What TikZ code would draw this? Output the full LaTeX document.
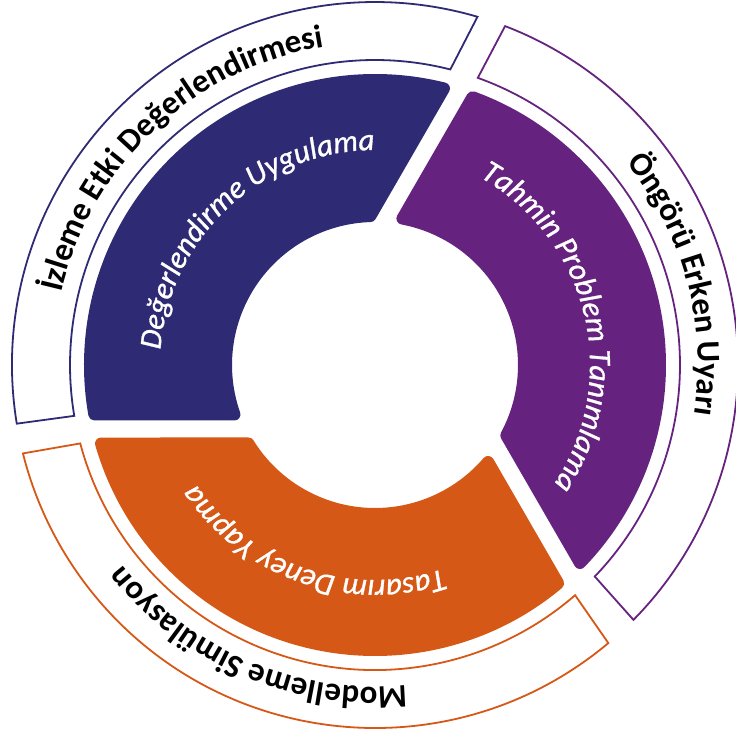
\documentclass[tikz,border=0pt]{standalone}
\usepackage{fontspec}
\setmainfont{Carlito}
\newfontfamily\innerfont{Carlito}[UprightFont={* Italic}, FakeBold=1]
\usetikzlibrary{decorations.text}
\definecolor{cblue}{HTML}{2E2B74}
\definecolor{cpurple}{HTML}{65237F}
\definecolor{corange}{HTML}{D65816}
\begin{document}
\begin{tikzpicture}[x=1pt,y=1pt,
  seg/.style={line width=12pt, line join=round},
  ring/.style={line width=1.8pt, fill=white}]
\useasboundingbox (-375,-366) rectangle (361,365);
% inner filled segments
\filldraw[seg, fill=cblue, draw=cblue] (75.99:285) arc[start angle=75.99, end angle=190, radius=285] -- (199.40:149) arc[start angle=199.40, end angle=91.79, radius=149] -- cycle;
\filldraw[seg, fill=cpurple, draw=cpurple] (-44.01:285) arc[start angle=-44.01, end angle=70, radius=285] -- (79.40:149) arc[start angle=79.40, end angle=-28.21, radius=149] -- cycle;
\filldraw[seg, fill=corange, draw=corange] (195.99:285) arc[start angle=195.99, end angle=310, radius=285] -- (319.40:149) arc[start angle=319.40, end angle=211.79, radius=149] -- cycle;
% outer outlined segments
\draw[ring, draw=cblue] (75.7:305) arc[start angle=75.7, end angle=189.6, radius=305] -- (189.3:363) arc[start angle=189.3, end angle=73.6, radius=363] -- cycle;
\draw[ring, draw=cpurple] (-43.9:305) arc[start angle=-43.9, end angle=70.3, radius=305] -- (69.0:363) arc[start angle=69.0, end angle=-44.6, radius=363] -- cycle;
\draw[ring, draw=corange] (194.9:305) arc[start angle=194.9, end angle=311.0, radius=305] -- (310.0:363) arc[start angle=310.0, end angle=194.1, radius=363] -- cycle;
% outer texts
\path[decorate, decoration={text along path, text align=center, text={|\fontsize{33}{36}\selectfont\bfseries|İzleme Etki Değerlendirmesi}}] (203:322) arc[start angle=203, end angle=63, radius=322];
\path[decorate, decoration={text along path, text align=center, text={|\fontsize{33}{36}\selectfont\bfseries|Öngörü Erken Uyarı}}] (85:323) arc[start angle=85, end angle=-55, radius=323];
\path[decorate, decoration={text along path, text align=center, text={|\fontsize{33}{36}\selectfont\bfseries|Modelleme Simülasyon}}] (317:322) arc[start angle=317, end angle=177, radius=322];
% inner texts
\path[decorate, decoration={text along path, text align=center, text color=white, text={|\innerfont\fontsize{31}{34}\selectfont|Değerlendirme Uygulama}}] (203:215) arc[start angle=203, end angle=63, radius=215];
\path[decorate, decoration={text along path, text align=center, text color=white, text={|\innerfont\fontsize{31}{34}\selectfont|Tahmin Problem Tanımlama}}] (83.5:215) arc[start angle=83.5, end angle=-56.5, radius=215];
\path[decorate, decoration={text along path, text align=center, text color=white, text={|\innerfont\fontsize{31}{34}\selectfont|Tasarım Deney Yapma}}] (321:215) arc[start angle=321, end angle=181, radius=215];
\end{tikzpicture}
\end{document}
